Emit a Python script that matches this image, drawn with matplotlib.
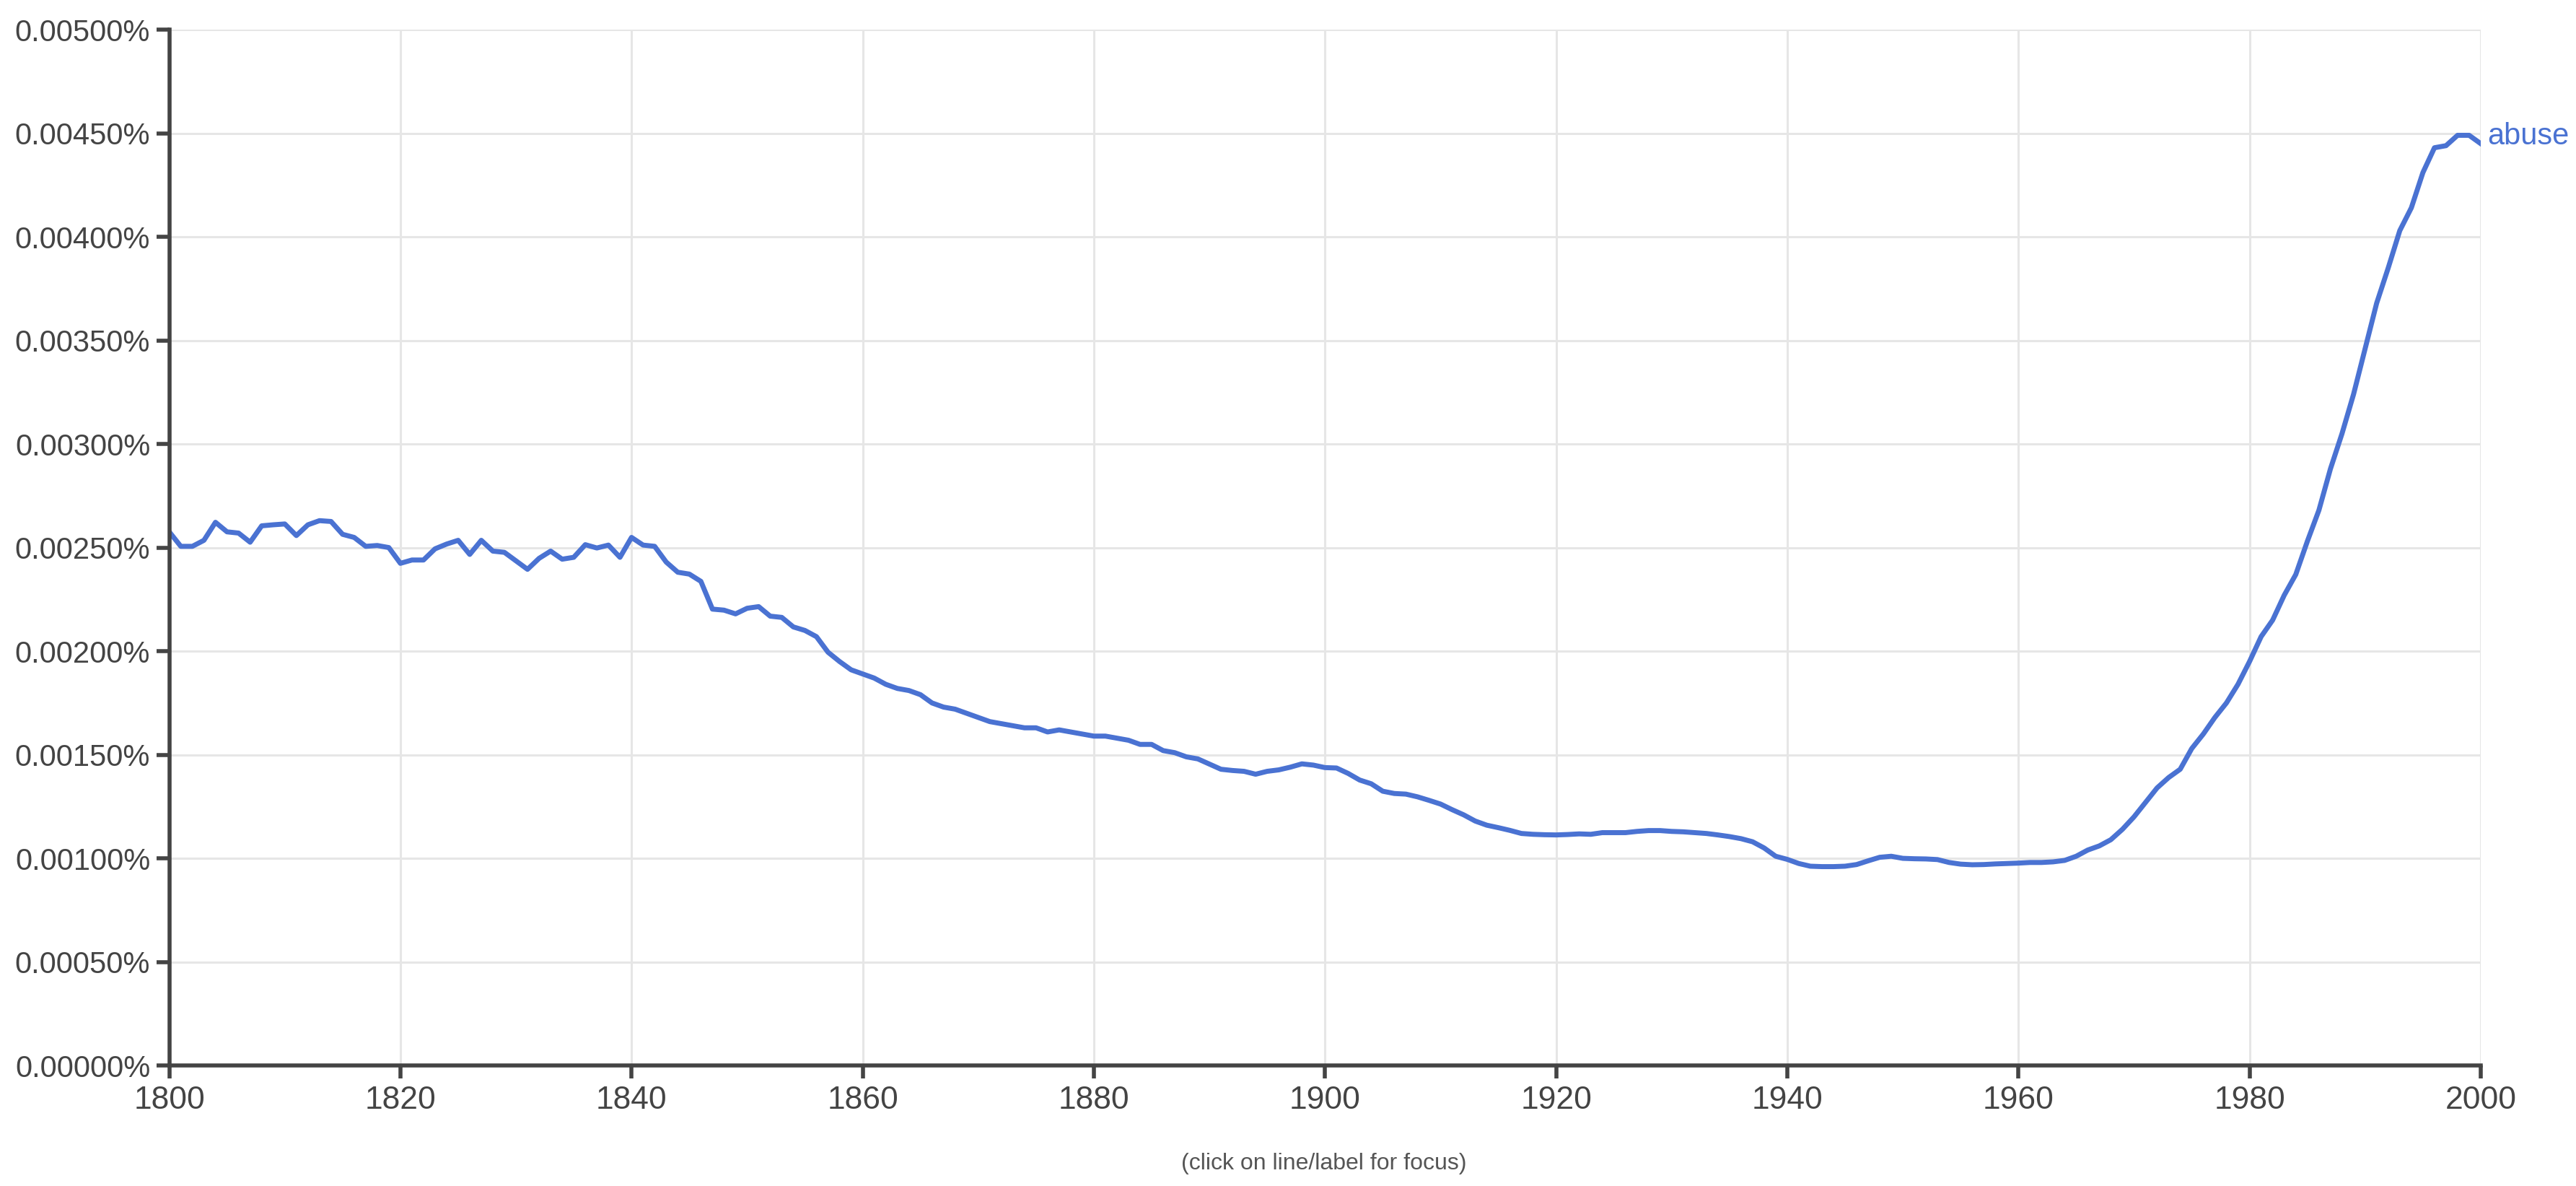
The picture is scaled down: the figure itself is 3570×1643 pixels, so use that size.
import matplotlib
matplotlib.use("Agg")
import matplotlib.pyplot as plt
from matplotlib.ticker import FuncFormatter

plt.rcParams['font.family'] = ['Liberation Sans Narrow', 'Liberation Sans', 'DejaVu Sans']

# years and frequency (in percent)
years = list(range(1800, 2001))
abuse = [
    0.002576, 0.002506, 0.002506, 0.002535, 0.002622, 0.002576, 0.002570, 0.002526, 0.002605, 0.002610,
    0.002614, 0.002558, 0.002610, 0.002630, 0.002626, 0.002564, 0.002549, 0.002506, 0.002510, 0.002500,
    0.002424, 0.002440, 0.002440, 0.002494, 0.002517, 0.002535, 0.002467, 0.002535, 0.002483, 0.002477,
    0.002436, 0.002395, 0.002448, 0.002483, 0.002444, 0.002453, 0.002514, 0.002498, 0.002512, 0.002453,
    0.002549, 0.002512, 0.002506, 0.002430, 0.002381, 0.002372, 0.002337, 0.002203, 0.002198, 0.002180,
    0.002207, 0.002215, 0.002169, 0.002163, 0.002117, 0.002100, 0.002070, 0.001995, 0.001950, 0.001910,
    0.001890, 0.001870, 0.001840, 0.001820, 0.001810, 0.001790, 0.001750, 0.001730, 0.001720, 0.001700,
    0.001680, 0.001660, 0.001650, 0.001640, 0.001630, 0.001630, 0.001610, 0.001620, 0.001610, 0.001600,
    0.001590, 0.001590, 0.001580, 0.001570, 0.001550, 0.001550, 0.001520, 0.001510, 0.001490, 0.001480,
    0.001455, 0.001430, 0.001424, 0.001420, 0.001406, 0.001420, 0.001427, 0.001440, 0.001456, 0.001450,
    0.001438, 0.001436, 0.001410, 0.001378, 0.001360, 0.001324, 0.001313, 0.001310, 0.001297, 0.001280,
    0.001262, 0.001235, 0.001210, 0.001180, 0.001160, 0.001148, 0.001135, 0.001120, 0.001116, 0.001114,
    0.001113, 0.001115, 0.001118, 0.001116, 0.001124, 0.001124, 0.001124, 0.001130, 0.001134, 0.001134,
    0.001130, 0.001128, 0.001124, 0.001120, 0.001113, 0.001105, 0.001095, 0.001080, 0.001050, 0.001010,
    0.000995, 0.000975, 0.000962, 0.000960, 0.000960, 0.000962, 0.000970, 0.000988, 0.001005, 0.001010,
    0.001000, 0.000998, 0.000997, 0.000994, 0.000980, 0.000972, 0.000969, 0.000970, 0.000973, 0.000975,
    0.000977, 0.000980, 0.000980, 0.000983, 0.000990, 0.001010, 0.001040, 0.001060, 0.001090, 0.001140,
    0.001200, 0.001270, 0.001340, 0.001390, 0.001430, 0.001530, 0.001600, 0.001680, 0.001750, 0.001840,
    0.001950, 0.002070, 0.002150, 0.002270, 0.002370, 0.002530, 0.002680, 0.002880, 0.003050, 0.003240,
    0.003460, 0.003680, 0.003850, 0.004030, 0.004140, 0.004310, 0.004430, 0.004440, 0.004490, 0.004490,
    0.004450,
]
label = 'abuse'
x_ticks = [1800, 1820, 1840, 1860, 1880, 1900, 1920, 1940, 1960, 1980, 2000]
y_ticks = [0.0, 0.0005, 0.001, 0.0015, 0.002, 0.0025, 0.003, 0.0035, 0.004, 0.0045, 0.005]

line_color = '#4a72d2'
axis_color = '#444444'

fig = plt.figure(figsize=(35.7, 16.43), dpi=100)
ax = fig.add_axes([0.0657, 0.1016, 0.8973, 0.8734])

ax.plot(years, abuse, color=line_color, linewidth=5, solid_joinstyle='round', zorder=3)

ax.set_xlim(1800, 2000)
ax.set_ylim(0, 0.005)
ax.set_xticks(x_ticks)
ax.set_yticks(y_ticks)
ax.yaxis.set_major_formatter(FuncFormatter(lambda v, p: '%.5f%%' % v))

ax.grid(True, color='#e6e6e6', linewidth=2.2, zorder=0)
ax.set_axisbelow(True)

for side in ['top', 'right']:
    ax.spines[side].set_visible(False)
for side in ['left', 'bottom']:
    ax.spines[side].set_color(axis_color)
    ax.spines[side].set_linewidth(4)
    ax.spines[side].set_zorder(4)

ax.tick_params(axis='both', colors=axis_color, labelsize=30, length=13, width=4)
ax.tick_params(axis='x', pad=7, labelsize=32)
ax.tick_params(axis='y', pad=6)

# label at the end of the line
ax.annotate(label, xy=(years[-1], abuse[-1]), xytext=(7, 7), textcoords='offset points',
            color=line_color, fontsize=30, va='center', ha='left', annotation_clip=False)

fig.text(0.514, 0.019, '(click on line/label for focus)', ha='center', va='center',
         fontsize=23, color='#555555')

fig.savefig('out.png', dpi=100, facecolor='white')
